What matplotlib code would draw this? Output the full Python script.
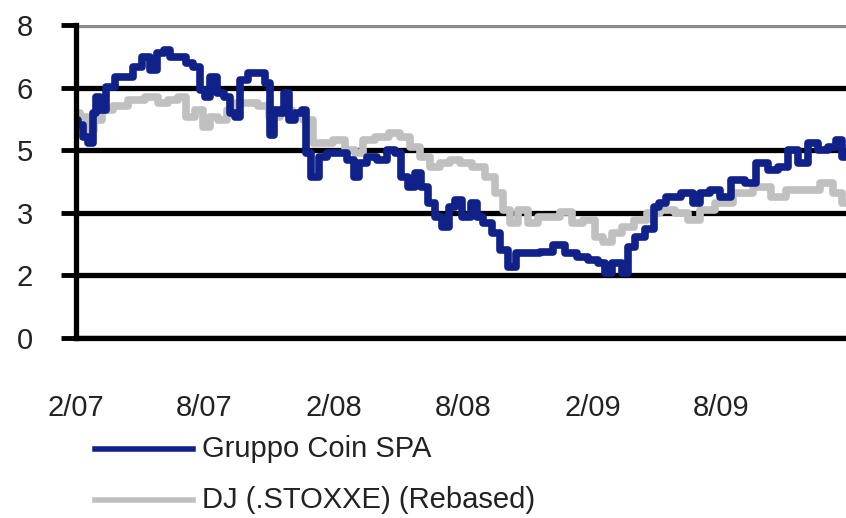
import matplotlib
matplotlib.use("Agg")
import matplotlib.pyplot as plt
from matplotlib.lines import Line2D
from matplotlib.ticker import FixedLocator, FormatStrFormatter
import pandas as pd

# Gruppo Coin SPA
coin_dates = [
    "2007-02-02", "2007-02-07", "2007-02-14", "2007-02-21", "2007-02-28", "2007-03-04",
    "2007-03-11", "2007-03-21", "2007-04-04", "2007-04-18", "2007-04-28", "2007-05-12",
    "2007-05-21", "2007-05-31", "2007-06-10", "2007-06-18", "2007-07-02", "2007-07-12",
    "2007-07-22", "2007-07-31", "2007-08-05", "2007-08-14", "2007-08-24", "2007-09-03",
    "2007-09-11", "2007-09-17", "2007-09-25", "2007-10-09", "2007-10-22", "2007-10-30",
    "2007-11-05", "2007-11-12", "2007-11-19", "2007-11-26", "2007-12-03", "2007-12-12",
    "2007-12-22", "2007-12-26", "2008-01-05", "2008-01-15", "2008-01-29", "2008-02-12",
    "2008-02-26", "2008-03-04", "2008-03-11", "2008-03-26", "2008-04-09", "2008-04-23",
    "2008-05-01", "2008-05-11", "2008-05-21", "2008-05-30", "2008-06-08", "2008-06-18",
    "2008-06-27", "2008-07-07", "2008-07-17", "2008-07-25", "2008-08-07", "2008-08-18",
    "2008-08-25", "2008-09-04", "2008-09-18", "2008-09-27", "2008-10-11", "2008-10-21",
    "2008-11-08", "2008-11-28", "2008-12-16", "2008-12-31", "2009-01-18", "2009-02-01",
    "2009-02-15", "2009-02-21", "2009-03-07", "2009-03-21", "2009-03-25", "2009-04-09",
    "2009-04-23", "2009-05-03", "2009-05-07", "2009-05-25", "2009-06-18", "2009-06-28",
    "2009-07-07", "2009-07-26", "2009-08-04", "2009-08-28", "2009-09-11", "2009-09-29",
    "2009-10-14", "2009-10-28", "2009-11-11", "2009-11-25", "2009-12-09", "2009-12-23",
    "2010-01-06", "2010-01-16", "2010-01-23",
]
coin_values = [
    5.58, 5.45, 5.15, 4.99, 5.76, 6.18,
    5.84, 6.43, 6.69, 6.69, 6.95, 7.20,
    6.86, 7.30, 7.37, 7.20, 7.20, 7.03,
    6.95, 6.35, 6.18, 6.69, 6.27, 6.18,
    5.76, 5.67, 6.60, 6.78, 6.78, 6.53,
    5.20, 5.84, 5.76, 6.27, 5.58, 5.76,
    5.84, 4.74, 4.13, 4.64, 4.74, 4.74,
    4.56, 4.13, 4.47, 4.64, 4.56, 4.81,
    4.74, 4.13, 3.87, 4.22, 3.87, 3.46,
    3.10, 2.84, 3.36, 3.53, 3.10, 3.46,
    3.10, 2.94, 2.69, 2.25, 1.82, 2.18,
    2.18, 2.20, 2.38, 2.18, 2.07, 2.00,
    1.92, 1.66, 1.92, 1.66, 2.33, 2.59,
    2.80, 3.36, 3.46, 3.61, 3.71, 3.46,
    3.71, 3.79, 3.61, 4.05, 3.97, 4.47,
    4.30, 4.38, 4.81, 4.47, 4.99, 4.81,
    4.89, 5.07, 4.64,
]

# DJ (.STOXXE) rebased
dj_dates = [
    "2007-02-02", "2007-02-11", "2007-02-21", "2007-03-03", "2007-03-17", "2007-04-04",
    "2007-04-28", "2007-05-21", "2007-06-04", "2007-06-18", "2007-07-02", "2007-07-12",
    "2007-07-26", "2007-08-05", "2007-08-14", "2007-08-28", "2007-09-07", "2007-09-21",
    "2007-10-09", "2007-10-23", "2007-11-09", "2007-11-24", "2007-12-12", "2007-12-26",
    "2008-01-09", "2008-01-23", "2008-02-06", "2008-02-26", "2008-03-06", "2008-03-20",
    "2008-04-09", "2008-04-27", "2008-05-11", "2008-05-25", "2008-06-08", "2008-06-23",
    "2008-07-07", "2008-07-21", "2008-08-04", "2008-08-25", "2008-09-08", "2008-09-23",
    "2008-10-02", "2008-10-11", "2008-10-25", "2008-11-08", "2008-11-22", "2008-12-06",
    "2008-12-26", "2009-01-09", "2009-01-28", "2009-02-11", "2009-02-21", "2009-03-07",
    "2009-03-21", "2009-04-09", "2009-04-27", "2009-05-17", "2009-06-08", "2009-06-22",
    "2009-07-12", "2009-08-04", "2009-09-01", "2009-09-29", "2009-10-23", "2009-11-11",
    "2009-12-09", "2009-12-29", "2010-01-16", "2010-01-23",
]
dj_values = [
    5.76, 5.67, 5.32, 5.58, 5.84, 5.93,
    6.10, 6.18, 6.01, 6.10, 6.18, 5.67,
    5.84, 5.41, 5.67, 5.58, 5.84, 6.01,
    6.01, 5.93, 5.67, 5.84, 5.76, 5.58,
    4.99, 4.99, 5.07, 4.81, 4.74, 5.07,
    5.15, 5.25, 5.15, 4.89, 4.64, 4.38,
    4.47, 4.56, 4.47, 4.38, 4.13, 3.71,
    3.28, 2.94, 3.28, 2.94, 3.10, 3.10,
    3.23, 2.94, 3.02, 2.59, 2.45, 2.69,
    2.84, 3.02, 3.20, 3.28, 3.20, 3.02,
    3.28, 3.46, 3.71, 3.87, 3.61, 3.79,
    3.79, 3.97, 3.71, 3.46,
]

tick_dates = ["2007-02-01", "2007-08-01", "2008-02-01", "2008-08-01", "2009-02-01", "2009-08-01"]
tick_labels = ["2/07", "8/07", "2/08", "8/08", "2/09", "8/09"]
y_ticks = [0, 1.6, 3.2, 4.8, 6.4, 8]

blue = "#10228a"
grey = "#c0c0c0"
txt = "#222222"
fs = 21

plt.rcParams["font.family"] = "Liberation Sans"

fig = plt.figure(figsize=(8.46, 5.18), dpi=100)
ax = fig.add_axes([0.0898, 0.3475, 0.9102, 0.6033])

# stepped lines to mimic the blocky daily series
ax.plot(pd.to_datetime(dj_dates), dj_values, color=grey, lw=5.5,
        drawstyle="steps-mid", zorder=3)
ax.plot(pd.to_datetime(coin_dates), coin_values, color=blue, lw=5.5,
        drawstyle="steps-mid", zorder=4)

ax.set_xlim(pd.Timestamp("2007-02-01"), pd.Timestamp("2010-01-25"))
ax.set_ylim(0, 8)

# y axis: ticks every 1.6, labels rounded
ax.yaxis.set_major_locator(FixedLocator(y_ticks))
ax.yaxis.set_major_formatter(FormatStrFormatter("%.0f"))
ax.tick_params(axis="y", length=11, width=3.5, pad=20, labelsize=fs,
               color="black", labelcolor=txt)

ax.set_xticks(pd.to_datetime(tick_dates))
ax.set_xticklabels(tick_labels)
ax.tick_params(axis="x", length=2.5, width=3, pad=38, labelsize=fs,
               color="black", labelcolor=txt)

ax.yaxis.grid(True, color="black", lw=3.8, zorder=1)
ax.set_axisbelow(True)
ax.get_ygridlines()[-1].set_color("#8c8c8c")

for s in ["top", "right"]:
    ax.spines[s].set_visible(False)
ax.spines["left"].set_linewidth(3.8)
ax.spines["bottom"].set_linewidth(3.8)
ax.spines["left"].set_zorder(5)

# legend drawn below the axes
fig.add_artist(Line2D([0.1123, 0.2281], [0.1332, 0.1332], color=blue, lw=4,
                      transform=fig.transFigure))
fig.text(0.2388, 0.1332, "Gruppo Coin SPA", fontsize=fs, color=txt,
         va="center", ha="left")
fig.add_artist(Line2D([0.1123, 0.2281], [0.0347, 0.0347], color=grey, lw=4,
                      transform=fig.transFigure))
fig.text(0.2388, 0.0347, "DJ (.STOXXE) (Rebased)", fontsize=fs, color=txt,
         va="center", ha="left")

fig.savefig("out.png", dpi=100)
